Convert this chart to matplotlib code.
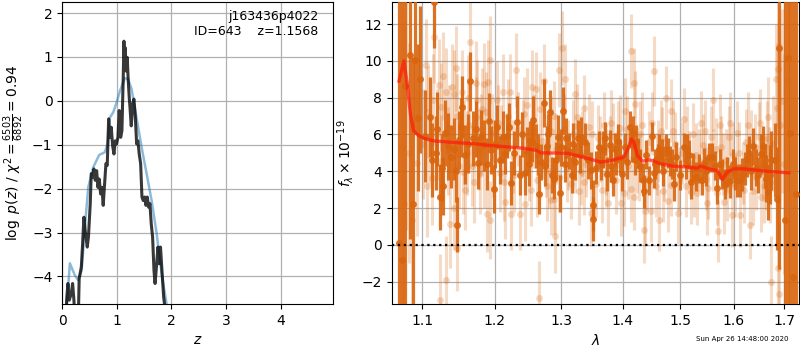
import matplotlib
matplotlib.use("Agg")
import matplotlib.pyplot as plt
from matplotlib.ticker import FixedLocator, FixedFormatter, NullLocator

# ---------------- left panel: p(z) ----------------
pz_smooth_z = [0.07, 0.14, 0.23, 0.29, 0.355, 0.415, 0.476, 0.568, 0.678, 0.78, 0.83, 0.873,
               0.934, 0.996, 1.057, 1.148, 1.209, 1.27, 1.36, 1.454, 1.546, 1.637, 1.729,
               1.82, 1.912, 2.0]
pz_smooth_lp = [-4.9, -3.70, -3.97, -4.08, -3.86, -2.87, -1.97, -1.51, -1.23, -1.17, -0.98, -0.38,
                -0.26, -0.04, 0.23, 0.52, 0.49, 0.27, -0.38, -1.06, -1.66, -2.27, -3.02,
                -3.93, -4.63, -5.5]

pz_z = [0.07, 0.08, 0.104, 0.128, 0.165, 0.19, 0.214, 0.24, 0.29, 0.31,
        0.35, 0.37, 0.397, 0.42, 0.458, 0.48, 0.513, 0.531, 0.556, 0.58,
        0.605, 0.63, 0.654, 0.678, 0.703, 0.727, 0.75, 0.776, 0.80, 0.824,
        0.85, 0.873, 0.897, 0.923, 0.947, 0.971, 0.996, 1.02, 1.044, 1.07,
        1.093, 1.117, 1.13, 1.142, 1.154, 1.17, 1.19, 1.209, 1.227, 1.245,
        1.264, 1.29, 1.313, 1.337, 1.363, 1.386, 1.41, 1.436, 1.46, 1.484,
        1.51, 1.533, 1.557, 1.582, 1.606, 1.63, 1.655, 1.68, 1.70, 1.73,
        1.753, 1.776, 1.80, 1.826, 1.857, 1.875, 1.90]
pz_lp = [-5.0, -4.54, -4.16, -4.54, -4.39, -4.16, -4.54, -5.2, -5.2, -4.05,
         -3.78, -3.33, -2.65, -2.95, -3.33, -3.10, -2.34, -1.66, -1.74, -1.55,
         -1.81, -1.59, -1.97, -1.78, -2.12, -1.97, -2.38, -1.89, -1.43, -1.47,
         -0.41, -0.83, -0.60, -1.02, -1.21, -0.91, -0.98, -0.83, -0.22, -0.83,
         -0.68, 0.53, 1.36, 0.76, 1.21, 0.68, 0.99, 0.46, 0.08, -0.22,
         -0.57, -0.07, 0.04, -0.34, -0.98, -0.91, -1.21, -1.43, -2.19, -2.27,
         -2.19, -2.38, -2.19, -2.42, -2.34, -2.80, -3.10, -3.86, -4.16, -3.71,
         -3.33, -3.71, -3.33, -3.86, -4.46, -4.65, -5.2]

# ---------------- right panel: spectrum ----------------
dark_wave = [1.0696, 1.0730, 1.0768, 1.0835, 1.0878, 1.0908, 1.0942, 1.0971, 1.1097, 1.1162,
             1.1199, 1.1235, 1.1283, 1.1346, 1.1429, 1.1476, 1.1499, 1.1540, 1.1651, 1.1698,
             1.1762, 1.1809, 1.1892, 1.1914, 1.1951,
             1.1993, 1.2042, 1.2123, 1.2158, 1.2208, 1.2244, 1.2324, 1.2373, 1.2449, 1.2474,
             1.2524, 1.2575, 1.2610, 1.2660, 1.2696, 1.2735, 1.2776, 1.2825, 1.2861, 1.2886,
             1.2946, 1.2986, 1.3029, 1.3083, 1.3164, 1.3192, 1.3267, 1.3322, 1.3473, 1.3506,
             1.3517, 1.3554, 1.3608, 1.3680, 1.3733, 1.3787, 1.3842, 1.3896, 1.3917, 1.3990,
             1.4044, 1.4125, 1.4169, 1.4206, 1.4260, 1.4341, 1.4369, 1.4450, 1.4504, 1.4559,
             1.4624, 1.4678, 1.4748, 1.4819, 1.4894, 1.5067, 1.5131, 1.5192, 1.5243,
             1.5347, 1.5440, 1.5534, 1.5597, 1.5690, 1.5784, 1.5877, 1.5938, 1.6063, 1.6125,
             1.6218, 1.6298, 1.6386, 1.6436, 1.6529, 1.6572, 1.6684, 1.6746, 1.6809, 1.6858,
             1.6902, 1.7014, 1.7074, 1.7127, 1.7181, 1.7247,
             1.1040, 1.1130, 1.1180, 1.1260, 1.1310, 1.1380, 1.1450, 1.1520, 1.1580, 1.1620,
             1.1730, 1.1850, 1.2000, 1.2080, 1.2180, 1.2280, 1.2400, 1.2500, 1.2550, 1.2640,
             1.2750, 1.2800, 1.2920, 1.3000, 1.3060, 1.3120, 1.3220, 1.3300, 1.3380, 1.3430,
             1.3640, 1.3710, 1.3810, 1.3870, 1.3950, 1.4080, 1.4150, 1.4230, 1.4300, 1.4400,
             1.4530, 1.4600, 1.4700, 1.4780, 1.4860, 1.4930, 1.5000, 1.5100, 1.5170, 1.5290,
             1.5400, 1.5480, 1.5640, 1.5740, 1.5830, 1.5990, 1.6030, 1.6170, 1.6260, 1.6340,
             1.6480, 1.6620, 1.6640, 1.6720]
dark_flux = [0.07, -0.85, 8.65, 10.3, 2.2, 10.05, 6.9, 9.0, 6.95, 13.2,
             6.3, 2.6, 3.2, 5.35, 5.2, 1.1, 5.7, 7.5, 8.9, 5.8,
             4.45, 5.85, 4.4, 6.75, 5.15,
             3.05, 6.4, 5.85, 4.95, 6.4, 3.35, 6.7, 3.8, 3.9, 5.1,
             5.65, 6.8, 5.35, 2.75, 4.5, 7.7, 5.35, 7.2, 3.8, 3.6,
             5.85, 2.8, 7.3, 5.8, 3.8, 5.5, 5.8, 5.85, 4.05, 2.15,
             1.4, 4.2, 5.3, 5.2, 3.85, 5.45, 3.55, 4.6, 5.65, 3.85,
             5.3, 6.4, 6.1, 4.6, 5.0, 3.55, 2.9, 3.5, 5.9, 4.4,
             5.2, 4.95, 5.2, 4.55, 3.3, 5.3, 5.2, 3.4, 4.2,
             4.15, 4.45, 4.75, 4.75, 3.1, 3.85, 3.95, 3.45, 3.5, 3.5,
             4.15, 5.0, 5.35, 4.2, 4.95, 5.35, 2.85, 4.6, 4.6, 2.5,
             10.7, 1.35, 10.15, 6.1, -1.75, 2.75,
             5.9, 4.6, 5.0, 4.2, 6.1, 4.8, 4.0, 6.4, 4.9, 5.5,
             6.3, 5.4, 5.5, 4.6, 5.9, 5.0, 6.0, 4.4, 5.6, 4.9,
             4.3, 6.0, 4.6, 5.3, 4.4, 5.1, 4.5, 4.9, 5.6, 4.6,
             4.4, 5.8, 4.3, 5.2, 4.8, 4.5, 5.4, 5.6, 4.3, 4.9,
             3.9, 4.7, 4.0, 5.0, 4.4, 4.8, 3.8, 4.4, 4.9, 3.7,
             3.5, 4.0, 4.3, 4.4, 3.3, 4.4, 3.9, 3.8, 4.6, 4.0,
             3.8, 4.3, 3.6, 3.8]
dark_err = [15, 15, 15, 10, 8, 4, 4, 4, 2.2, 2.5,
            2.0, 1.8, 1.6, 1.8, 1.7, 1.5, 1.6, 1.7, 1.6, 1.5,
            1.4, 1.5, 1.4, 1.5, 1.3,
            1.3, 1.2, 1.4, 1.1, 1.3, 1.2, 1.4, 1.1, 1.2, 1.3,
            1.1, 1.3, 1.2, 1.1, 1.0, 1.3, 1.1, 1.2, 1.0, 1.1,
            1.2, 1.0, 1.3, 1.1, 1.0, 1.1, 1.0, 1.1, 1.0, 1.4,
            1.2, 0.9, 0.9, 1.0, 0.9, 0.8, 0.9, 0.8, 0.9, 0.9,
            0.8, 0.9, 0.9, 0.8, 0.8, 0.9, 0.9, 0.8, 0.8, 0.8,
            0.8, 0.8, 0.8, 0.8, 0.9, 0.8, 0.8, 0.9, 0.8,
            0.8, 0.8, 0.8, 0.8, 0.9, 0.8, 0.8, 0.9, 0.9, 0.9,
            0.9, 0.9, 1.0, 1.0, 1.1, 1.1, 1.5, 1.6, 2.0, 2.8,
            12, 12, 15, 15, 15, 15,
            2.5, 2.0, 2.0, 1.8, 1.8, 1.7, 1.7, 1.6, 1.6, 1.6,
            1.5, 1.4, 1.3, 1.3, 1.2, 1.2, 1.2, 1.2, 1.1, 1.1,
            1.1, 1.1, 1.0, 1.0, 1.0, 1.0, 1.0, 1.0, 1.0, 1.0,
            0.9, 0.9, 0.9, 0.9, 0.9, 0.9, 0.9, 0.9, 0.9, 0.8,
            0.8, 0.8, 0.8, 0.8, 0.8, 0.8, 0.8, 0.8, 0.8, 0.8,
            0.8, 0.8, 0.8, 0.8, 0.8, 0.8, 0.9, 0.9, 0.9, 1.0,
            1.0, 1.2, 1.3, 1.6]

light_wave = [1.1051, 1.1152, 1.1222, 1.1314, 1.1407, 1.1421, 1.1536, 1.1651, 1.1730, 1.1845,
              1.1900, 1.1928, 1.1823, 1.1753, 1.1255, 1.1144, 1.1014, 1.0929, 1.0823, 1.0781,
              1.0739, 1.0759, 1.0866, 1.1058, 1.1130, 1.1245, 1.1320, 1.1235, 1.1374, 1.1429,
              1.1467, 1.1546, 1.1578, 1.1605, 1.1684, 1.1789, 1.1850, 1.1892, 1.1938, 1.1637,
              1.1735, 1.1476,
              1.2309, 1.2123, 1.2223, 1.2560, 1.2610, 1.2735, 1.2961, 1.3013, 1.3067, 1.3218,
              1.3364, 1.2033, 1.2158, 1.2244, 1.2373, 1.2449, 1.2660, 1.2836, 1.2911, 1.2886,
              1.2636, 1.2083, 1.3311, 1.3370, 1.3473, 1.3446, 1.2434, 1.2890, 1.3257, 1.2711,
              1.3094,
              1.4133, 1.4190, 1.4539, 1.4208, 1.4756, 1.4843, 1.4045, 1.5067, 1.3689, 1.3798,
              1.4337, 1.3961, 1.5131, 1.4656, 1.4365, 1.3755, 1.3972, 1.4195, 1.4377, 1.4482,
              1.4626, 1.4569, 1.4703, 1.4958, 1.4016, 1.4138, 1.4831, 1.5192, 1.3717,
              1.5608, 1.5379, 1.5739, 1.6068, 1.6684, 1.6829, 1.6875, 1.6849, 1.7078, 1.6928,
              1.5702, 1.5970, 1.6318, 1.6744, 1.6895, 1.6880, 1.5491, 1.5317, 1.5813, 1.6119,
              1.6531, 1.6630, 1.5565, 1.5907, 1.6332, 1.6497,
              1.2090, 1.2264, 1.2505, 1.2761, 1.2926, 1.3115, 1.3390, 1.3585, 1.3845, 1.4098,
              1.4447, 1.4712, 1.4918, 1.5286, 1.5472, 1.5658, 1.5845, 1.5994, 1.6233, 1.6432,
              1.6690, 1.1107, 1.1356, 1.1564, 1.1771, 1.1965, 1.2414, 1.2806, 1.3217, 1.3725,
              1.4272, 1.4603, 1.5155, 1.5416, 1.5789, 1.6173, 1.6571,
              1.1080, 1.1190, 1.1280, 1.1340, 1.1450, 1.1500, 1.1620, 1.1700, 1.1800, 1.1880,
              1.1980, 1.2050, 1.2130, 1.2190, 1.2290, 1.2350, 1.2480, 1.2540, 1.2590, 1.2680,
              1.2780, 1.2850, 1.2970, 1.3040, 1.3150, 1.3180, 1.3280, 1.3330, 1.3500, 1.3550,
              1.3630, 1.3660, 1.3780, 1.3880, 1.3920, 1.4080, 1.4240, 1.4300, 1.4420, 1.4500,
              1.4590, 1.4680, 1.4790, 1.4880, 1.4990, 1.5030, 1.5100, 1.5230, 1.5260, 1.5350,
              1.5450, 1.5520, 1.5600, 1.5680, 1.5760, 1.5870, 1.5930, 1.6020, 1.6100, 1.6200,
              1.6280, 1.6380, 1.6420, 1.6520, 1.6600, 1.6650, 1.6720, 1.6780, 1.6950, 1.7000]
light_flux = [9.8, 11.3, 8.7, 8.3, 8.6, 8.2, 8.3, 11.05, 8.8, 8.75,
              8.85, 10.05, 7.4, 7.85, 7.5, 7.85, 5.5, 4.45, 5.0, 8.8,
              5.3, 2.2, 1.35, 3.2, 3.65, 4.55, -1.9, -3.0, 1.15, 2.0,
              -0.2, 3.95, 3.0, 5.0, 4.3, 3.85, 4.2, 1.7, 1.35, 6.5,
              6.95, 7.0,
              9.5, 8.3, 8.3, 8.6, 8.5, 8.9, 9.5, 10.7, 9.0, 8.2,
              7.45, 7.9, 2.3, 1.7, 1.7, 2.2, -2.9, 2.45, 0.45, 2.5,
              3.5, 3.9, 3.95, 3.4, 1.75, 6.4, 7.1, 7.0, 6.95, 5.65,
              4.2,
              10.55, 8.8, 9.45, 7.65, 8.0, 7.3, 7.25, 6.85, 6.5, 6.6,
              6.5, 6.35, 5.85, 6.2, 0.8, 2.25, 2.25, 2.6, 1.85, 1.85,
              1.35, 3.2, 2.95, 1.75, 2.8, 3.05, 3.25, 2.85, 3.85,
              7.9, 6.65, 6.5, 6.1, 6.95, 9.0, 9.55, 7.45, 8.95, 6.5,
              0.75, 1.6, 1.05, -2.0, -2.7, -1.25, 2.25, 2.8, 2.3, 1.6,
              2.6, 3.9, 5.85, 5.85, 5.55, 5.85,
              5.5, 4.8, 4.4, 4.6, 5.2, 4.9, 4.4, 5.8, 5.9, 4.3,
              5.6, 4.1, 5.5, 4.9, 3.6, 5.2, 4.6, 4.9, 5.6, 3.7,
              4.4, 5.8, 6.3, 5.6, 5.2, 6.1, 5.9, 4.0, 4.7, 4.5,
              4.2, 5.1, 4.5, 5.4, 4.4, 3.9, 4.3,
              7.2, 6.0, 9.2, 5.1, 9.6, 4.3, 8.0, 3.4, 6.0, 7.2,
              4.7, 6.6, 3.4, 7.0, 3.8, 6.3, 7.6, 3.0, 6.2, 7.4,
              3.2, 6.2, 3.7, 6.3, 3.3, 6.0, 2.9, 5.5, 6.0, 3.3,
              5.2, 3.0, 5.2, 3.5, 6.0, 6.3, 4.6, 6.0, 3.6, 6.6,
              4.4, 5.8, 2.4, 6.2, 3.6, 5.0, 3.2, 6.0, 3.2, 4.6,
              6.2, 3.1, 4.6, 2.8, 5.3, 3.0, 6.6, 3.2, 5.0, 3.0,
              6.5, 2.9, 5.3, 6.6, 3.2, 5.8, 3.4, 5.5, 7.8, 4.4]
light_err = [2.5, 2.5, 2.5, 2.4, 2.3, 2.4, 2.3, 2.5, 2.3, 2.2,
             2.3, 2.4, 2.2, 2.2, 2.4, 2.5, 3.0, 4.0, 6.0, 8.0,
             10.0, 10.0, 5.0, 2.8, 2.6, 2.5, 2.4, 2.5, 2.4, 2.3,
             2.3, 2.3, 2.2, 2.3, 2.2, 2.2, 2.2, 2.1, 2.1, 2.3,
             2.2, 2.3,
             2.0, 2.1, 2.1, 2.0, 2.0, 2.0, 2.0, 2.0, 1.9, 1.9,
             1.8, 2.1, 2.0, 2.0, 2.0, 2.0, 2.0, 1.9, 2.0, 1.9,
             2.0, 2.1, 1.8, 1.8, 1.8, 1.8, 2.0, 1.9, 1.8, 2.0,
             1.9,
             2.0, 1.9, 1.9, 1.8, 1.7, 1.7, 1.8, 1.7, 1.8, 1.8,
             1.8, 1.8, 1.7, 1.7, 1.8, 1.8, 1.8, 1.8, 1.8, 1.7,
             1.7, 1.7, 1.7, 1.7, 1.8, 1.8, 1.7, 1.7, 1.8,
             1.7, 1.7, 1.7, 1.7, 2.2, 3.0, 4.0, 3.5, 6.0, 4.5,
             1.7, 1.7, 1.8, 2.5, 4.0, 4.0, 1.7, 1.7, 1.7, 1.7,
             1.9, 2.0, 1.7, 1.7, 1.8, 1.9,
             2.1, 2.0, 2.0, 2.0, 1.9, 1.9, 1.8, 1.8, 1.8, 1.8,
             1.7, 1.7, 1.7, 1.7, 1.7, 1.7, 1.7, 1.7, 1.8, 1.8,
             2.0, 2.5, 2.4, 2.3, 2.2, 2.1, 2.0, 2.0, 1.9, 1.8,
             1.8, 1.7, 1.7, 1.7, 1.7, 1.7, 1.9,
             2.5, 2.5, 2.4, 2.4, 2.3, 2.3, 2.3, 2.2, 2.2, 2.2,
             2.1, 2.1, 2.1, 2.0, 2.0, 2.0, 2.0, 2.0, 2.0, 2.0,
             1.9, 1.9, 1.9, 1.9, 1.9, 1.9, 1.8, 1.8, 1.8, 1.8,
             1.8, 1.8, 1.8, 1.8, 1.8, 1.8, 1.8, 1.8, 1.7, 1.7,
             1.7, 1.7, 1.7, 1.7, 1.7, 1.7, 1.7, 1.7, 1.7, 1.7,
             1.7, 1.7, 1.7, 1.7, 1.7, 1.7, 1.7, 1.7, 1.7, 1.8,
             1.8, 1.8, 1.8, 1.9, 2.0, 2.0, 2.2, 2.6, 5.0, 6.0]

model_wave = [1.0696, 1.0759, 1.0802, 1.0844, 1.0886, 1.0949, 1.1014, 1.1152, 1.1476, 1.1706,
              1.1938, 1.2434, 1.2636, 1.2685, 1.3094, 1.3311, 1.3473, 1.3636, 1.3798, 1.4016,
              1.4103, 1.4145, 1.4190, 1.4250, 1.4337, 1.4452, 1.4539, 1.4656, 1.4888, 1.5192,
              1.5317, 1.5379, 1.5440, 1.5534, 1.5690, 1.5784, 1.5877, 1.6000, 1.6199, 1.6664,
              1.7099]
model_flux = [8.9, 10.0, 8.75, 7.1, 6.2, 5.95, 5.8, 5.65, 5.55, 5.5,
              5.4, 5.25, 5.12, 5.0, 4.98, 4.8, 4.65, 4.5, 4.58, 4.76,
              5.3, 5.76, 5.58, 4.86, 4.55, 4.62, 4.55, 4.4, 4.27, 4.22,
              4.16, 4.3, 4.22, 4.13, 4.04, 3.54, 3.95, 4.13, 4.13, 4.0,
              3.91]

pz_xticks = [0, 1, 2, 3, 4]
pz_yticks = [-4, -3, -2, -1, 0, 1, 2]
wave_ticks = [1.1, 1.2, 1.3, 1.4, 1.5, 1.6, 1.7]
wave_ticklabels = ['1.1', '1.2', '1.3', '1.4', '1.5', '1.6', '1.7']
flux_ticks = [-2, 0, 2, 4, 6, 8, 10, 12]

orange = '#d9650e'

fig = plt.figure(figsize=(8, 3.5), dpi=100)
ax1 = fig.add_axes([0.0778, 0.131, 0.3385, 0.863])
ax2 = fig.add_axes([0.4896, 0.131, 0.5095, 0.863])

# left
ax1.plot(pz_smooth_z, pz_smooth_lp, color='#1f77b4', alpha=0.5, lw=1.8, zorder=3)
ax1.plot(pz_z, pz_lp, color='k', alpha=0.78, lw=2.2, zorder=4)
ax1.set_xlim(0, 4.96)
ax1.set_ylim(-4.63, 2.25)
ax1.set_xticks(pz_xticks)
ax1.set_yticks(pz_yticks)
ax1.grid(True, color='#b0b0b0', lw=0.9)
ax1.set_axisbelow(True)
ax1.set_xlabel('$z$', fontsize=10)
ax1.set_ylabel(r'$\log\ p(z)$ / $\chi^2=\frac{6503}{6892}=0.94$', fontsize=10)
ax1.text(0.945, 0.975, 'j163436p4022\nID=643    z=1.1568', transform=ax1.transAxes,
         ha='right', va='top', fontsize=9, linespacing=1.25)

# right
ax2.errorbar(light_wave, light_flux, yerr=light_err, fmt='o', color=orange, alpha=0.24,
             ms=5, lw=2.2, mew=0, zorder=2)
ax2.errorbar(dark_wave, dark_flux, yerr=dark_err, fmt='o', color=orange, alpha=0.9,
             ms=5, lw=2.3, mew=0, zorder=3)
ax2.plot(model_wave, model_flux, color='#ff1a0a', alpha=0.7, lw=2.4, zorder=5)
ax2.axhline(0, color='k', ls=':', lw=1.6, zorder=4)
ax2.set_xscale('log')
ax2.set_xlim(1.0602, 1.7316)
ax2.set_ylim(-3.23, 13.2)
ax2.xaxis.set_major_locator(FixedLocator(wave_ticks))
ax2.xaxis.set_major_formatter(FixedFormatter(wave_ticklabels))
ax2.xaxis.set_minor_locator(NullLocator())
ax2.set_yticks(flux_ticks)
ax2.grid(True, color='#b0b0b0', lw=0.9)
ax2.set_axisbelow(True)
ax2.set_xlabel(r'$\lambda$', fontsize=10)
ax2.set_ylabel(r'$f_\lambda \times 10^{-19}$', fontsize=10)

fig.text(0.985, 0.022, 'Sun Apr 26 14:48:00 2020', ha='right', va='bottom', fontsize=5)

fig.savefig('out.png', dpi=100)
